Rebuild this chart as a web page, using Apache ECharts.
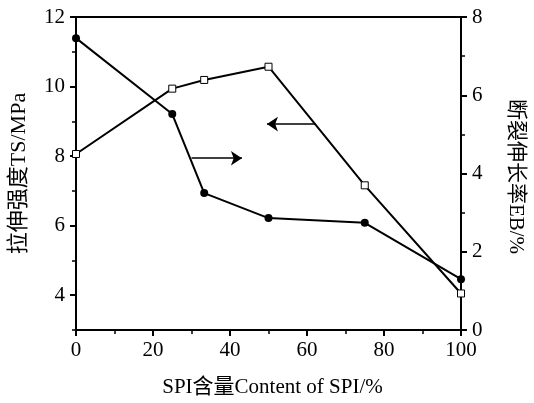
<!DOCTYPE html>
<html><head><meta charset="utf-8">
<script src="https://cdn.jsdelivr.net/npm/echarts@6/dist/echarts.min.js"></script>
<style>html,body{margin:0;padding:0;background:#fff;}#c{width:534px;height:403px;}</style>
</head><body><div id="c"></div>
<script>
const spiContent = [0, 25, 33.3, 50, 75, 100];
const tensileTS = [8.06, 9.94, 10.19, 10.57, 7.16, 4.05];
const elongationEB = [7.46, 5.52, 3.50, 2.86, 2.74, 1.30];
const leftMajorTicks = [4, 6, 8, 10, 12];
const leftMinorTicks = [3, 5, 7, 9, 11];
const xName = 'SPI含量Content of SPI/%';
const yLeftName = '拉伸强度TS/MPa';
const yRightName = '断裂伸长率EB/%';

const FF = "'Liberation Serif','Noto Sans CJK SC',serif";
const axisLine = {show: true, lineStyle: {color: '#000', width: 2}};
const chart = echarts.init(document.getElementById('c'));
chart.setOption({
  animation: false,
  backgroundColor: '#fff',
  grid: {left: 75, right: 70, top: 17, bottom: 65, show: true, borderColor: '#000', borderWidth: 2},
  xAxis: {
    type: 'value', min: 0, max: 100, interval: 20,
    name: xName, nameLocation: 'middle', nameGap: 47,
    nameTextStyle: {fontFamily: FF, fontSize: 21, color: '#000', padding: [0, 0, 0, 8]},
    axisLine: axisLine,
    axisTick: {show: true, length: 6, lineStyle: {color: '#000', width: 2}},
    minorTick: {show: true, splitNumber: 2, length: 4, lineStyle: {color: '#000', width: 1.5}},
    axisLabel: {fontFamily: FF, fontSize: 21, color: '#000', margin: 10},
    splitLine: {show: false}
  },
  yAxis: [
    {
      type: 'value', min: 3, max: 12, position: 'left',
      name: yLeftName, nameLocation: 'middle', nameGap: 46,
      nameTextStyle: {fontFamily: FF, fontSize: 22, color: '#000'},
      axisLine: axisLine,
      axisTick: {show: true, length: 6, customValues: leftMajorTicks, lineStyle: {color: '#000', width: 2}},
      axisLabel: {fontFamily: FF, fontSize: 21, color: '#000', margin: 11, customValues: leftMajorTicks},
      splitLine: {show: false}
    },
    {
      type: 'value', min: 0, max: 8, interval: 2, position: 'right',
      name: yRightName, nameLocation: 'middle', nameGap: 44, nameRotate: -90,
      nameTextStyle: {fontFamily: FF, fontSize: 21, color: '#000', padding: [0, 0, 0, 6]},
      axisLine: axisLine,
      axisTick: {show: true, length: 6, lineStyle: {color: '#000', width: 2}},
      minorTick: {show: true, splitNumber: 2, length: 4, lineStyle: {color: '#000', width: 1.5}},
      axisLabel: {fontFamily: FF, fontSize: 21, color: '#000', margin: 11},
      splitLine: {show: false}
    },
    {
      type: 'value', min: 3, max: 12, position: 'left',
      axisLine: {show: false},
      axisTick: {show: true, length: 4, customValues: leftMinorTicks, lineStyle: {color: '#000', width: 1.5}},
      axisLabel: {show: false},
      splitLine: {show: false}
    }
  ],
  series: [
    {
      type: 'line', yAxisIndex: 0,
      data: spiContent.map((x, i) => [x, tensileTS[i]]),
      symbol: 'rect', symbolSize: 7,
      itemStyle: {color: '#fff', borderColor: '#000', borderWidth: 1},
      lineStyle: {color: '#000', width: 2},
      z: 3,
      markLine: {
        silent: true, symbol: ['arrow', 'none'], symbolSize: 11,
        label: {show: false},
        lineStyle: {color: '#000', width: 1.5, type: 'solid'},
        data: [[{coord: [49.6, 8.92]}, {coord: [62.2, 8.92]}]]
      }
    },
    {
      type: 'line', yAxisIndex: 1,
      data: spiContent.map((x, i) => [x, elongationEB[i]]),
      symbol: 'circle', symbolSize: 8,
      itemStyle: {color: '#000'},
      lineStyle: {color: '#000', width: 2},
      z: 4,
      markLine: {
        silent: true, symbol: ['none', 'arrow'], symbolSize: 11,
        label: {show: false},
        lineStyle: {color: '#000', width: 1.5, type: 'solid'},
        data: [[{coord: [30.0, 4.39]}, {coord: [43.1, 4.39]}]]
      }
    }
  ]
});
</script></body></html>
